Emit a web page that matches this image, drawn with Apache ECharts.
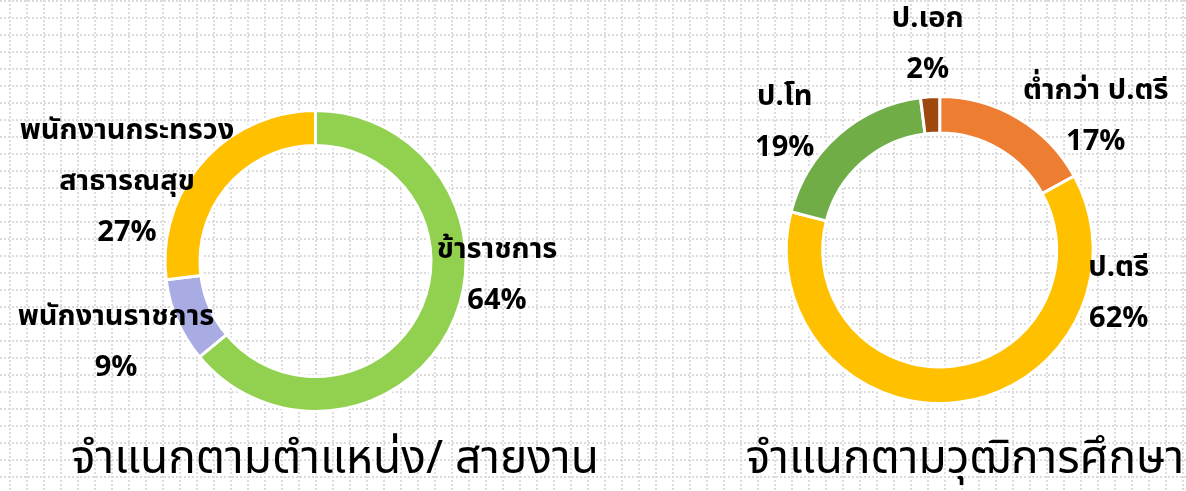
<!DOCTYPE html>
<html><head><meta charset="utf-8">
<script src="https://cdn.jsdelivr.net/npm/echarts@6/dist/echarts.min.js"></script>
<style>html,body{margin:0;padding:0;background:#fff}#c{width:1186px;height:491px}</style>
</head><body><div id="c"></div>
<script>
// ---- data ----
const positionNames = ['ข้าราชการ', 'พนักงานราชการ', 'พนักงานกระทรวง\nสาธารณสุข'];
const positionValues = [64, 9, 27];
const eduNames = ['ต่ำกว่า ป.ตรี', 'ป.ตรี', 'ป.โท', 'ป.เอก'];
const eduValues = [17, 62, 19, 2];
const titles = ['จำแนกตามตำแหน่ง/ สายงาน', 'จำแนกตามวุฒิการศึกษา'];

// ---- styles ----
const positionColors = ['#92d050', '#a9abe3', '#ffc000'];
const eduColors = ['#ed7d31', '#ffc000', '#70ad47', '#9e480e'];
const FONT = "'Noto Sans Thai','Noto Sans',sans-serif";
const leftCenter = [315.5, 261], rightCenter = [939.7, 250];
// label block offsets from each pie centre
const leftLabelOff = [[181.5, 17], [-199.5, 84], [-188.5, -77]];
const rightLabelOff = [[156, -131], [179, 46], [-155, -125], [-12, -203]];

const chart = echarts.init(document.getElementById('c'), null, {renderer: 'canvas'});

// dotted background grid
const bg = [];
const gridStyle = {stroke: '#dcdcdc', lineWidth: 2, lineDash: [2, 2]};
for (let x = 10; x < 1186; x += 17) bg.push({type: 'line', silent: true, z: -10,
  shape: {x1: x, y1: 0, x2: x, y2: 491}, style: gridStyle});
for (let y = 1; y < 491; y += 17) bg.push({type: 'line', silent: true, z: -10,
  shape: {x1: 0, y1: y, x2: 1186, y2: y}, style: gridStyle});

function pieSeries(names, values, colors, center, radius, offs) {
  return {
    type: 'pie', center: center, radius: radius, startAngle: 90, clockwise: true,
    percentPrecision: 0, avoidLabelOverlap: false,
    data: names.map((n, i) => ({name: n, value: values[i], itemStyle: {color: colors[i]}})),
    itemStyle: {borderColor: '#fff', borderWidth: 3},
    label: {show: true, position: 'outside', formatter: '{b}\n{d}%', color: '#000',
      fontFamily: FONT, fontWeight: 'bold', fontSize: 29, lineHeight: 51},
    labelLine: {show: false},
    labelLayout: p => ({x: center[0] + offs[p.dataIndex][0], y: center[1] + offs[p.dataIndex][1],
      align: 'center', verticalAlign: 'middle'}),
    emphasis: {disabled: true}
  };
}

chart.setOption({
  animation: false,
  graphic: bg,
  title: [
    {text: titles[0], left: 330, top: 436, textAlign: 'center',
     textStyle: {fontFamily: FONT, fontWeight: 'normal', fontSize: 46, color: '#000'}},
    {text: titles[1], left: 960, top: 436, textAlign: 'center',
     textStyle: {fontFamily: FONT, fontWeight: 'normal', fontSize: 46, color: '#000'}}
  ],
  series: [
    pieSeries(positionNames, positionValues, positionColors, leftCenter, [115.5, 150.5], leftLabelOff),
    pieSeries(eduNames, eduValues, eduColors, rightCenter, [117, 153.5], rightLabelOff)
  ]
});
</script></body></html>
